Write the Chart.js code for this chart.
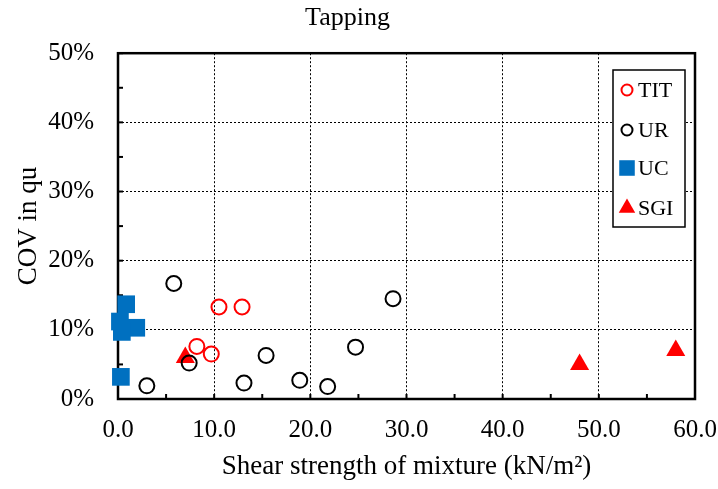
<!DOCTYPE html>
<html>
<head>
<meta charset="utf-8">
<title>Tapping</title>
<script src="https://cdn.jsdelivr.net/npm/chart.js@4"></script>
<style>
  body { margin: 0; background: #fff; }
  canvas { display: block; }
</style>
</head>
<body>
<canvas id="my-chart" width="718" height="489"></canvas>
<script>
'use strict';

// *************** DATA
let titXs = [10.5, 12.9, 8.2, 9.7];
let titYs = [13.3, 13.3, 7.6, 6.5];

let urXs = [5.8, 7.4, 3.0, 13.1, 15.4, 18.9, 21.8, 24.7, 28.6];
let urYs = [16.7, 5.2, 1.9, 2.3, 6.3, 2.7, 1.8, 7.5, 14.5];

let ucXs = [0.85, 0.2, 1.9, 0.4, 0.3];
let ucYs = [13.7, 11.2, 10.3, 9.7, 3.2];

let sgiXs = [7.0, 48.0, 58.0];
let sgiYs = [6.0, 5.0, 7.0];

let xTicks = [0, 10, 20, 30, 40, 50, 60];
let yTicks = [0, 10, 20, 30, 40, 50];

// *************** STYLE
const FONT = "'Liberation Serif', 'Times New Roman', serif";
const RED = '#ff0000';
const BLUE = '#0070c0';

// *************** HELPERS
function toPoints(xs, ys) {
  let pts = [];
  for (let i = 0; i < xs.length; i++) {
    pts.push({ x: xs[i], y: ys[i] });
  }
  return pts;
}

// frame round the plot + small inner ticks every 5 units
let framePlugin = {
  id: 'frame',
  beforeDatasetsDraw(chart) {
    let ctx = chart.ctx;
    let a = chart.chartArea;
    let xs = chart.scales.x;
    let ys = chart.scales.y;
    ctx.save();
    ctx.strokeStyle = '#000';
    ctx.lineWidth = 2;
    for (let v = 0; v <= 60; v += 5) {
      let px = xs.getPixelForValue(v);
      ctx.beginPath();
      ctx.moveTo(px, a.bottom);
      ctx.lineTo(px, a.bottom - 5);
      ctx.stroke();
    }
    for (let v = 0; v <= 50; v += 5) {
      let py = ys.getPixelForValue(v);
      ctx.beginPath();
      ctx.moveTo(a.left, py);
      ctx.lineTo(a.left + 5, py);
      ctx.stroke();
    }
    ctx.lineWidth = 2.5;
    ctx.strokeRect(a.left, a.top, a.right - a.left, a.bottom - a.top);
    ctx.restore();
  }
};

// boxed legend inside the plot, top right
let legendBoxPlugin = {
  id: 'legendBox',
  afterDatasetsDraw(chart) {
    let ctx = chart.ctx;
    let rowsY = [90, 130, 168, 208];
    let legendStyles = [
      { pointStyle: 'circle', radius: 5.5, borderWidth: 2, fill: '#fff', stroke: RED },
      { pointStyle: 'circle', radius: 5.5, borderWidth: 2, fill: '#fff', stroke: '#000' },
      { pointStyle: 'rect', radius: 11, borderWidth: 0, fill: BLUE, stroke: BLUE },
      { pointStyle: 'triangle', radius: 9.5, borderWidth: 0, fill: RED, stroke: RED }
    ];
    ctx.save();
    ctx.fillStyle = '#fff';
    ctx.fillRect(613, 70, 72, 157);
    ctx.strokeStyle = '#000';
    ctx.lineWidth = 1.5;
    ctx.strokeRect(613, 70, 72, 157);
    chart.data.datasets.forEach((ds, i) => {
      let st = legendStyles[i];
      ctx.fillStyle = st.fill;
      ctx.strokeStyle = st.stroke;
      ctx.lineWidth = st.borderWidth;
      Chart.helpers.drawPoint(ctx, { pointStyle: st.pointStyle, radius: st.radius, borderWidth: st.borderWidth, rotation: 0 }, 627, rowsY[i]);
      ctx.fillStyle = '#000';
      ctx.font = '22px ' + FONT;
      ctx.textBaseline = 'middle';
      ctx.textAlign = 'left';
      ctx.fillText(ds.label, 638, rowsY[i] + 1);
    });
    ctx.restore();
  }
};

// *************** CHART
let chartObj = {
  type: 'scatter',
  data: {
    datasets: [
      {
        label: 'TIT',
        data: toPoints(titXs, titYs),
        pointStyle: 'circle',
        pointRadius: 7.5,
        pointHoverRadius: 7.5,
        borderWidth: 2,
        borderColor: RED,
        backgroundColor: 'rgba(255,255,255,0)',
        clip: false
      },
      {
        label: 'UR',
        data: toPoints(urXs, urYs),
        pointStyle: 'circle',
        pointRadius: 7.5,
        pointHoverRadius: 7.5,
        borderWidth: 2,
        borderColor: '#000',
        backgroundColor: 'rgba(255,255,255,0)',
        clip: false
      },
      {
        label: 'UC',
        data: toPoints(ucXs, ucYs),
        pointStyle: 'rect',
        pointRadius: 12.5,
        pointHoverRadius: 12.5,
        borderWidth: 0,
        borderColor: BLUE,
        backgroundColor: BLUE,
        clip: false
      },
      {
        label: 'SGI',
        data: toPoints(sgiXs, sgiYs),
        pointStyle: 'triangle',
        pointRadius: 11,
        pointHoverRadius: 11,
        borderWidth: 0,
        borderColor: RED,
        backgroundColor: RED,
        clip: false
      }
    ]
  },
  options: {
    responsive: false,
    animation: false,
    layout: { padding: { left: 0, right: 23, top: 0, bottom: 0 } },
    plugins: {
      legend: { display: false },
      tooltip: { enabled: false },
      title: {
        display: true,
        text: 'Tapping',
        color: '#000',
        font: { family: FONT, size: 26, weight: 'normal' },
        padding: { top: 3, bottom: 19 }
      }
    },
    scales: {
      x: {
        type: 'linear',
        min: 0,
        max: 60,
        afterFit(scale) {
          scale.height = 90;
          scale.paddingLeft = 0;
          scale.paddingRight = 0;
        },
        afterBuildTicks(scale) { scale.ticks = xTicks.map(v => ({ value: v })); },
        ticks: {
          color: '#000',
          padding: 16,
          maxRotation: 0,
          font: { family: FONT, size: 25 },
          callback: v => v.toFixed(1)
        },
        grid: {
          drawTicks: false,
          lineWidth: 1,
          color: c => (c.tick && c.tick.value > 0 && c.tick.value < 60) ? '#000' : 'rgba(0,0,0,0)'
        },
        border: { display: false, dash: [2, 2] },
        title: {
          display: true,
          text: 'Shear strength of mixture (kN/m\u00b2)',
          color: '#000',
          font: { family: FONT, size: 27 },
          padding: { top: 6, bottom: 6 }
        }
      },
      y: {
        type: 'linear',
        min: 0,
        max: 50,
        afterFit(scale) { scale.width = 118; },
        afterBuildTicks(scale) { scale.ticks = yTicks.map(v => ({ value: v })); },
        ticks: {
          color: '#000',
          padding: 24,
          font: { family: FONT, size: 25 },
          callback: v => v + '%'
        },
        grid: {
          drawTicks: false,
          lineWidth: 1,
          color: c => (c.tick && c.tick.value > 0 && c.tick.value < 50) ? '#000' : 'rgba(0,0,0,0)'
        },
        border: { display: false, dash: [2, 2] },
        title: {
          display: true,
          text: 'COV in qu',
          color: '#000',
          font: { family: FONT, size: 27 },
          padding: { top: 13, bottom: 4 }
        }
      }
    }
  },
  plugins: [framePlugin, legendBoxPlugin]
};

let ctx = document.getElementById('my-chart').getContext('2d');
let myChart = new Chart(ctx, chartObj);//eslint-disable-line
</script>
</body>
</html>
